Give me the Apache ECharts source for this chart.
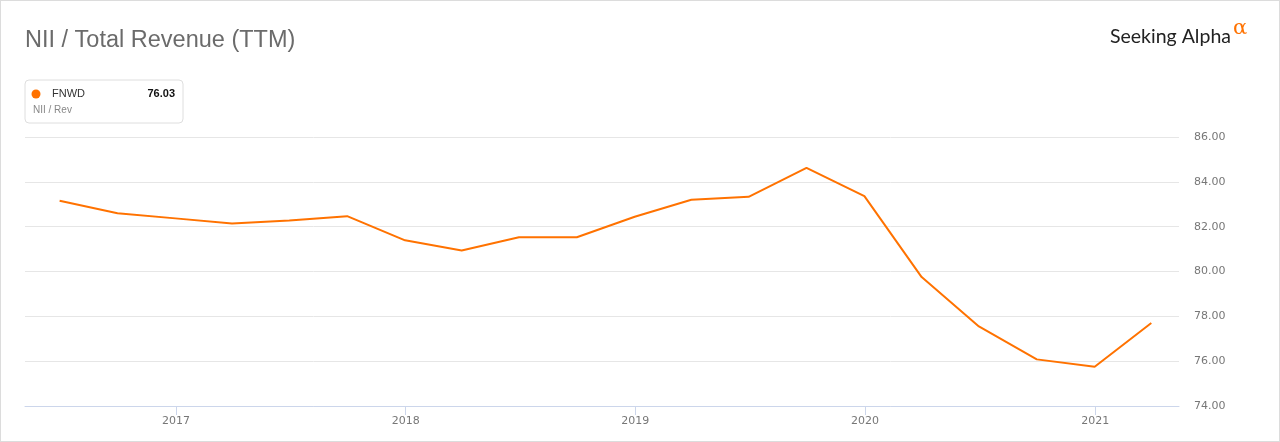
<!DOCTYPE html>
<html>
<head>
<meta charset="utf-8">
<script src="https://cdn.jsdelivr.net/npm/echarts@6/dist/echarts.min.js"></script>
<style>
html, body { margin: 0; padding: 0; background: #fff; }
#chart { width: 1278px; height: 440px; border: 1px solid #dcdcdc; }
</style>
</head>
<body>
<div id="chart"></div>
<script>
// quarter-end dates and NII / Total Revenue (TTM) values for FNWD
var dates = [
	'2016-06-30', '2016-09-30', '2016-12-31', '2017-03-31',
	'2017-06-30', '2017-09-30', '2017-12-31', '2018-03-31',
	'2018-06-30', '2018-09-30', '2018-12-31', '2019-03-31',
	'2019-06-30', '2019-09-30', '2019-12-31', '2020-03-31',
	'2020-06-30', '2020-09-30', '2020-12-31', '2021-03-31'
];
var niiRev = [
	83.16, 82.60, 82.37, 82.14,
	82.27, 82.47, 81.39, 80.94,
	81.53, 81.53, 82.44, 83.20,
	83.33, 84.62, 83.36, 79.75,
	77.55, 76.08, 75.75, 77.70
];
var yTicks = [74, 86, 2]; // min, max, step
var legendName = 'FNWD';
var legendValue = '76.03';
var legendSub = 'NII / Rev';

var seriesData = [];
for(var i = 0; i < dates.length; i++) {
	seriesData.push([dates[i], niiRev[i]]);
}

var myChart = echarts.init(document.getElementById('chart'));
var option = {
	animation: false,
	title: {
		text: 'NII / Total Revenue (TTM)',
		left: 24,
		top: 28,
		padding: 0,
		textStyle: {
			fontFamily: 'Liberation Sans',
			fontSize: 23.5,
			fontWeight: 'normal',
			color: '#6b6b6b'
		}
	},
	graphic: [
		// legend card
		{
			type: 'rect',
			shape: { x: 24, y: 79, width: 158, height: 43, r: 4 },
			style: { fill: '#fff', stroke: '#dedede', lineWidth: 1 }
		},
		{
			type: 'circle',
			shape: { cx: 35, cy: 93, r: 4.5 },
			style: { fill: '#ff7200' }
		},
		{
			type: 'text',
			x: 51, y: 93,
			style: { text: legendName, fontFamily: 'Liberation Sans', fontSize: 11, fill: '#333', verticalAlign: 'middle' }
		},
		{
			type: 'text',
			x: 174, y: 93,
			style: { text: legendValue, fontFamily: 'Liberation Sans', fontSize: 11, fontWeight: 'bold', fill: '#111', align: 'right', verticalAlign: 'middle' }
		},
		{
			type: 'text',
			x: 32, y: 109,
			style: { text: legendSub, fontFamily: 'Liberation Sans', fontSize: 10, fill: '#888', verticalAlign: 'middle' }
		},
		// logo
		{
			type: 'text',
			x: 1109, y: 36,
			style: { text: 'Seeking Alpha', fontFamily: 'Lato', fontSize: 19.5, fill: '#222', verticalAlign: 'middle' }
		},
		{
			type: 'text',
			x: 1232, y: 28,
			style: { text: 'α', fontFamily: 'DejaVu Serif', fontSize: 21, fill: '#ff7200', verticalAlign: 'middle' }
		}
	],
	grid: {
		left: 24,
		right: 100,
		top: 136,
		bottom: 35,
		containLabel: false
	},
	xAxis: {
		type: 'time',
		min: +new Date('2016-05-06'),
		max: +new Date('2021-05-14'),
		splitNumber: 5,
		axisLine: { lineStyle: { color: '#ccd6eb', width: 1 } },
		axisTick: { show: true, length: 9, lineStyle: { color: '#ccd6eb' } },
		axisLabel: {
			formatter: '{yyyy}',
			color: '#777',
			fontFamily: 'DejaVu Sans',
			fontSize: 11,
			margin: 10
		},
		splitLine: { show: false }
	},
	yAxis: {
		type: 'value',
		position: 'right',
		min: yTicks[0],
		max: yTicks[1],
		interval: yTicks[2],
		axisLine: { show: false },
		axisTick: { show: false },
		axisLabel: {
			formatter: function(v) { return v.toFixed(2); },
			color: '#777',
			fontFamily: 'DejaVu Sans',
			fontSize: 11,
			margin: 15
		},
		splitLine: { lineStyle: { color: '#e6e6e6' } }
	},
	series: [{
		name: legendName,
		type: 'line',
		data: seriesData,
		showSymbol: false,
		lineStyle: { color: '#ff7200', width: 2 },
		itemStyle: { color: '#ff7200' }
	}]
};
myChart.setOption(option);
</script>
</body>
</html>
